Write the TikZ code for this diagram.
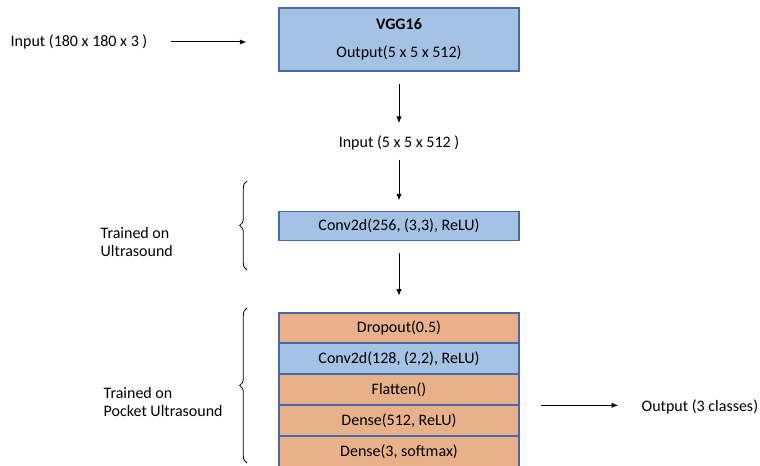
\documentclass[tikz,border=0pt]{standalone}
\usepackage{fontspec}
\setmainfont{Carlito}
\usetikzlibrary{positioning,arrows.meta,decorations.pathreplacing}
\definecolor{convfill}{RGB}{164,194,228}
\definecolor{densefill}{RGB}{233,177,137}
\definecolor{layeredge}{RGB}{72,104,168}
\tikzset{
  layer/.style={draw=layeredge, line width=0.8pt, minimum width=180pt, minimum height=22.4pt, inner sep=0pt, font=\fontsize{12}{13.5}\selectfont},
  convlayer/.style={layer, fill=convfill},
  denselayer/.style={layer, fill=densefill},
  txt/.style={font=\fontsize{12}{13.5}\selectfont},
  flow/.style={line width=0.75pt, -{Latex[length=5pt,width=4pt]}},
  curly/.style={decorate, decoration={brace, amplitude=5.5pt}, line width=0.6pt}
}
\begin{document}
\begin{tikzpicture}[x=0.75pt, y=-0.75pt]
  \useasboundingbox (0,0) rectangle (760,466);

  %pretrained part
  \node[convlayer, minimum height=47.25pt, align=center, font=\fontsize{12}{21}\selectfont] (vgg) at (399,39.5)
    {\textbf{VGG16}\\Output(5 x 5 x 512)};
  \node[txt, anchor=west] (imgin) at (6,42) {Input (180 x 180 x 3 )};
  \draw[flow] ([xshift=14pt]imgin.east) -- ([xshift=-24pt]vgg.west |- imgin.east);

  \node[txt] (featin) at (399,143) {Input (5 x 5 x 512 )};
  \draw[flow] ([yshift=-9pt]vgg.south) -- ([yshift=6pt]featin.north);

  %ultrasound block
  \node[convlayer] (conv1) at (399,226) {Conv2d(256, (3,3), ReLU)};
  \draw[flow] ([yshift=-3.5pt]featin.south) -- ([yshift=7.5pt]conv1.north);

  %pocket ultrasound block
  \node[denselayer, anchor=north] (drop) at (399,312.5) {Dropout(0.5)};
  \node[convlayer, below=0pt of drop] (conv2) {Conv2d(128, (2,2), ReLU)};
  \node[denselayer, below=0pt of conv2] (flat) {Flatten()};
  \node[denselayer, below=0pt of flat] (dense1) {Dense(512, ReLU)};
  \node[denselayer, below=0pt of dense1] (dense2) {Dense(3, softmax)};
  \draw[flow] ([yshift=-9pt]conv1.south) -- ([yshift=12.5pt]drop.north);

  \node[txt, anchor=west] (out) at (637,407) {Output (3 classes)};
  \draw[flow] ([xshift=16pt]dense1.north east) -- ([xshift=-14pt]dense1.north east -| out.west);

  %braces
  \draw[curly] (247,270) -- (247,181);
  \node[txt, anchor=west, align=left] (lab1) at (96,242) {Trained on\\Ultrasound};
  \draw[curly] (247,463) -- (247,308);
  \node[txt, anchor=west, align=left] (lab2) at (99,402) {Trained on\\Pocket Ultrasound};
\end{tikzpicture}
\end{document}
